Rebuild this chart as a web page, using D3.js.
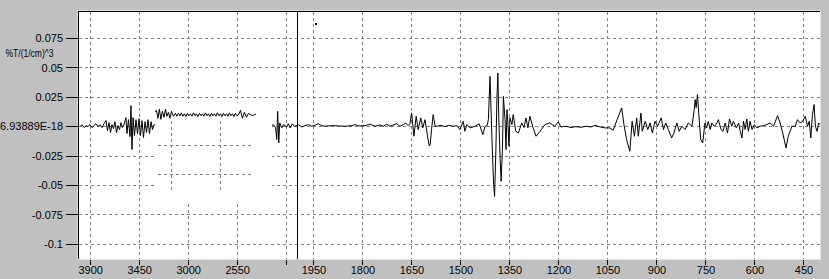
<!DOCTYPE html>
<html>
<head>
<meta charset="utf-8">
<script src="https://cdn.jsdelivr.net/npm/d3@7"></script>
<style>
  html, body { margin: 0; padding: 0; background: #c0c0c0; overflow: hidden; }
  svg { display: block; }
</style>
</head>
<body>
<div id="chart"></div>
<script>
// axis setup
const xBreaks = [4000, 2000, 400]; // 4000-2000 is drawn compressed
const xTicks = [3900, 3450, 3000, 2550, 2100, 1950, 1800, 1650, 1500, 1350, 1200, 1050, 900, 750, 600, 450];
const xTickLabels = ["3900", "3450", "3000", "2550", "", "1950", "1800", "1650", "1500", "1350", "1200", "1050", "900", "750", "600", "450"];
const yLimits = [-0.1129, 0.0971];
const yTicks = [0.075, 0.05, 0.025, 0, -0.025, -0.05, -0.075, -0.1];
const yTickLabels = ["0.075", "0.05", "0.025", "6.93889E-18", "-0.025", "-0.05", "-0.075", "-0.1"];
const yTitle = "%T/(1/cm)^3";

// third derivative, [wavenumber, value * 1e-3]
const seg4000 = [[3998,0],[3980,1.7],[3961,-0.8],[3943,0.8],[3925,0],[3906,1.7],[3888,-0.8],[3870,0.8],[3851,2.5],[3833,0],
  [3815,1.7],[3796,-0.8],[3778,2.5],[3759,5.1],[3746,-3.4],[3732,3.4],[3718,-5.1],[3704,1.7],[3691,-1.7],[3677,4.2],
  [3663,-5.1],[3649,0.8],[3635,-2.5],[3622,3.4],[3608,-0.8],[3594,1.7],[3576,7.6],[3567,-5.9],[3553,5.9],[3539,-8.5],
  [3530,17.8],[3521,-19.5],[3511,7.6],[3498,-7.6],[3484,5.9],[3470,-5.9],[3456,6.8],[3443,-7.6],[3429,5.1],[3415,-9.3],
  [3401,4.2],[3387,-5.1],[3374,5.9],[3360,-5.9],[3346,4.2],[3332,-2.5],[3319,1.7],[3291,0],[3254,0.8],[3218,-0.8],[3181,0.8]];
const seg3150 = [[3144,4.2],[3130,-2.5],[3117,5.1],[3103,-3.4],[3089,3.4],[3075,-1.7],[3061,5.1],[3048,-0.8],[3034,2.5],
  [3020,-2.5],[3006,3.4],[2988,-0.8],[2970,1.7],[2956,-0.8],[2942,1.7],[2928,-0.4],[2915,2.1],[2901,-0.8],[2887,1.3],
  [2873,-1.1],[2860,1.7],[2846,-0.4],[2832,1.3],[2818,-0.8],[2804,2.1],[2790,-0.4],[2777,1.3],[2763,-1.1],[2749,1.7],
  [2735,-0.4],[2722,1.3],[2708,-0.8],[2694,2.1],[2680,-0.4],[2667,1.3],[2653,-1.1],[2639,1.7],[2625,-0.4],[2612,1.3],
  [2598,-0.8],[2584,2.1],[2570,-0.4],[2556,1.3],[2542,-1.1],[2529,1.7],[2515,-0.4],[2501,1.3],[2487,-0.8],[2474,2.1],
  [2460,-0.4],[2446,1.3],[2432,-1.1],[2419,1.7],[2405,-0.4],[2391,0.4],[2372,4.2],[2354,-2.5],[2336,2.5],[2317,-1.7],
  [2299,1.7],[2271,0],[2244,0.3],[2223,1.7],[2201,-1.1],[2192,-11],[2183,13],[2173,-13.9],[2164,3.1],[2146,-1.1],
  [2128,1.7],[2100,-0.3],[2085,2.5],[2070,-1.1],[2049,2.3],[2030,0.3],[2008,0.8]];
const seg2000 = [[1998,1.7],[1987,-0.3],[1977,0.8],[1967,1.7],[1957,0.3],[1947,1.1],[1937,2.5],[1926,0.8],[1916,0.3],
  [1896,0.8],[1875,0.6],[1855,0.3],[1834,0.8],[1824,1.7],[1814,0.6],[1794,0.8],[1778,2.0],[1763,0.3],[1748,1.4],
  [1738,0.3],[1727,2.0],[1717,0.3],[1707,1.4],[1697,2.5],[1687,0.3],[1676,1.7],[1669,3.1],[1662,0.8],[1656,2.5],
  [1651,11.6],[1644,-8.2],[1637,8.8],[1631,-2.5],[1623,7.4],[1617,-1.1],[1610,5.9],[1603,-6.8],[1597,-16.5],[1594,-15],
  [1590,-2.5],[1585,10.2],[1579,0.3],[1573,0.3],[1561,1.1],[1549,0],[1537,1.1],[1524,0.3],[1512,0.8],[1503,-2.5],
  [1493,4.5],[1488,-4.0],[1482,1.7],[1472,-1.1],[1457,0.3],[1444,2.3],[1433,-6.8],[1426,0.3],[1420,0.8],[1416,5.9],
  [1411,42.7],[1405,-11],[1400,-49.3],[1397,-59.2],[1393,-19.5],[1390,22.9],[1387,45.6],[1384,5.9],[1380,-28],
  [1377,-46.5],[1373,-19.5],[1370,25.7],[1365,5.9],[1362,-19.5],[1359,14.4],[1356,1.7],[1353,-16.7],[1350,7.6],
  [1344,1.7],[1340,10.2],[1332,-4.0],[1324,-5.4],[1314,3.1],[1307,-0.8],[1301,7.4],[1295,-1.1],[1289,8.8],[1279,-1.1],
  [1270,-8.2],[1258,-4.0],[1243,1.7],[1228,3.1],[1213,0.3],[1202,4.0]];
const seg1200 = [[1194,-0.3],[1178,0.3],[1163,-0.8],[1148,0],[1133,-0.6],[1117,0.3],[1102,-0.3],[1090,1.1],[1074,-0.3],
  [1059,-1.1],[1044,-1.1],[1034,-3.1],[1022,5.9],[1008,15.9],[1001,1.7],[993,-11],[983,-21],[976,4.5],[969,-8.2],
  [962,7.4],[957,-8.2],[949,11.6],[945,-4.0],[936,4.5],[928,-2.5],[921,3.1],[914,-5.4],[906,4.5],[898,0.3],[887,7.4],
  [880,-2.5],[873,3.1],[865,-2.5],[855,-9.6],[848,-5.4],[839,3.1],[832,-4.0],[824,0.3],[814,-2.5],[804,3.1],[793,0.3],
  [789,8],[786,14.4],[783,22.9],[780,16.1],[776,27.2],[770,3.1],[766,-11],[760,-13.9],[753,3.1],[748,-1.1],[743,4.5],
  [737,-2.5],[732,3.1],[725,0.3],[719,1.7],[712,5.9],[704,-2.5],[698,-4.0],[691,3.1],[684,-5.4],[678,6.5],[671,0.3],
  [666,4.5],[657,-1.1],[650,3.1],[645,-4.0],[640,-9.6],[635,4.5],[630,-2.5],[625,6.5],[620,-4.0],[615,4.5],[609,-2.5],
  [602,1.7],[594,-1.1],[584,0.3],[574,0.8],[564,1.7],[554,3.1],[543,0.3],[531,9.3],[523,3.1],[515,-5.4],[505,-18.1],
  [498,-8.2],[487,0.3],[477,0.3],[470,5.9],[462,3.1],[454,4.5],[446,8.8],[439,0.3],[434,4.5],[429,-9.6],[424,10.2],
  [419,18.7],[415,0.3],[410,-4.0],[405,3.1],[402,1.7]];
const strayPoint = [1944, 88];
const milli = 1e-3;

const spectrum = seg4000.concat(seg3150, seg2000, seg1200);

const W = 829, H = 279;
const plot = { left: 79, top: 12, right: 820, bottom: 259 };

const x = d3.scaleLinear().domain(xBreaks).range([79.8, 297.6, 820.3]);
const y = d3.scaleLinear().domain(yLimits).range([259.5, 12.3]);
const snap = v => Math.floor(v) + 0.5;

const svg = d3.create("svg")
  .attr("width", W)
  .attr("height", H)
  .style("font-family", "'Liberation Sans', Arial, sans-serif");

svg.append("rect").attr("width", W).attr("height", H).attr("fill", "#c0c0c0");

svg.append("rect")
  .attr("x", plot.left).attr("y", plot.top)
  .attr("width", plot.right - plot.left).attr("height", plot.bottom - plot.top)
  .attr("fill", "#fff");

const line = d3.line()
  .x(d => x(d[0]))
  .y(d => y(d[1] * milli));

// grid + trace, drawn twice (second copy is the offset repaint patch)
function drawContent(g, grid) {
  const gg = g.append("g")
    .attr("stroke", "#808080")
    .attr("stroke-dasharray", "3,3")
    .attr("shape-rendering", "crispEdges");
  if (grid) {
    gg.selectAll("line.v").data(xTicks).join("line")
      .attr("class", "v")
      .attr("x1", d => snap(x(d))).attr("x2", d => snap(x(d)))
      .attr("y1", plot.top).attr("y2", plot.bottom);
    gg.selectAll("line.h").data(yTicks).join("line")
      .attr("class", "h")
      .attr("x1", plot.left).attr("x2", plot.right)
      .attr("y1", d => snap(y(d))).attr("y2", d => snap(y(d)));
  }
  g.append("path")
    .datum(spectrum)
    .attr("fill", "none")
    .attr("stroke", "#000")
    .attr("stroke-width", 1)
    .attr("d", line);
}

const main = svg.append("g")
  .attr("clip-path", "url(#plotClip)");
drawContent(main, true);

const defs = svg.append("defs");
defs.append("clipPath").attr("id", "plotClip")
  .append("rect")
  .attr("x", plot.left).attr("y", plot.top)
  .attr("width", plot.right - plot.left).attr("height", plot.bottom - plot.top);
defs.append("clipPath").attr("id", "patchGrid")
  .append("rect").attr("x", 158).attr("y", 121).attr("width", 94).attr("height", 70);
defs.append("clipPath").attr("id", "patchTrace")
  .append("rect").attr("x", 155).attr("y", 100).attr("width", 101).attr("height", 26);

// unpainted area and the shifted patch inside it
svg.append("rect")
  .attr("x", 155).attr("y", 103).attr("width", 117).attr("height", 98)
  .attr("fill", "#fff");

const patchGrid = svg.append("g").attr("clip-path", "url(#patchGrid)")
  .append("g").attr("transform", "translate(-16.6,-11.3)");
drawContent(patchGrid, true);
patchGrid.select("path").remove();

const patchTrace = svg.append("g").attr("clip-path", "url(#patchTrace)")
  .append("g").attr("transform", "translate(-16.6,-11.3)");
drawContent(patchTrace, false);

// range break marker
svg.append("line")
  .attr("x1", snap(x(xBreaks[1]))).attr("x2", snap(x(xBreaks[1])))
  .attr("y1", plot.top).attr("y2", plot.bottom)
  .attr("stroke", "#000")
  .attr("shape-rendering", "crispEdges");

svg.append("rect")
  .attr("x", Math.floor(x(strayPoint[0]))).attr("y", Math.floor(y(strayPoint[1] * milli)))
  .attr("width", 2).attr("height", 2)
  .attr("fill", "#000");

// sunken frame
const frame = svg.append("g").attr("shape-rendering", "crispEdges").attr("fill", "none");
frame.append("path").attr("stroke", "#dcdcdc")
  .attr("d", `M${plot.left - 1.5},${plot.bottom + 1}V${plot.top - 1.5}H${plot.right + 1}`);
frame.append("path").attr("stroke", "#000")
  .attr("d", `M${plot.left - 0.5},${plot.bottom}V${plot.top - 0.5}H${plot.right}`);
frame.append("path").attr("stroke", "#e4e4e4")
  .attr("d", `M${plot.left - 1},${plot.bottom + 0.5}H${plot.right + 0.5}V${plot.top - 1}`);

// y axis
const yAxis = svg.append("g");
yAxis.selectAll("line").data(yTicks).join("line")
  .attr("x1", 66).attr("x2", plot.left)
  .attr("y1", d => snap(y(d))).attr("y2", d => snap(y(d)))
  .attr("stroke", "#000")
  .attr("shape-rendering", "crispEdges");
yAxis.selectAll("text").data(yTicks).join("text")
  .attr("x", 63)
  .attr("y", d => y(d))
  .attr("dy", "0.35em")
  .attr("text-anchor", "end")
  .attr("font-size", 11)
  .attr("fill", "#000")
  .text((d, i) => yTickLabels[i]);

svg.append("text")
  .attr("x", 53.5).attr("y", 53)
  .attr("dy", "0.35em")
  .attr("text-anchor", "end")
  .attr("font-size", 10)
  .attr("textLength", 48)
  .attr("lengthAdjust", "spacingAndGlyphs")
  .attr("fill", "#000")
  .text(yTitle);

// x axis
const xAxis = svg.append("g");
xAxis.selectAll("line").data(xTicks).join("line")
  .attr("x1", d => snap(x(d))).attr("x2", d => snap(x(d)))
  .attr("y1", plot.bottom + 1).attr("y2", plot.bottom + 6)
  .attr("stroke", "#000")
  .attr("shape-rendering", "crispEdges");
xAxis.selectAll("text").data(xTicks).join("text")
  .attr("x", d => x(d))
  .attr("y", 274)
  .attr("text-anchor", "middle")
  .attr("font-size", 11)
  .attr("fill", "#000")
  .text((d, i) => xTickLabels[i]);

document.getElementById("chart").appendChild(svg.node());
</script>
</body>
</html>
